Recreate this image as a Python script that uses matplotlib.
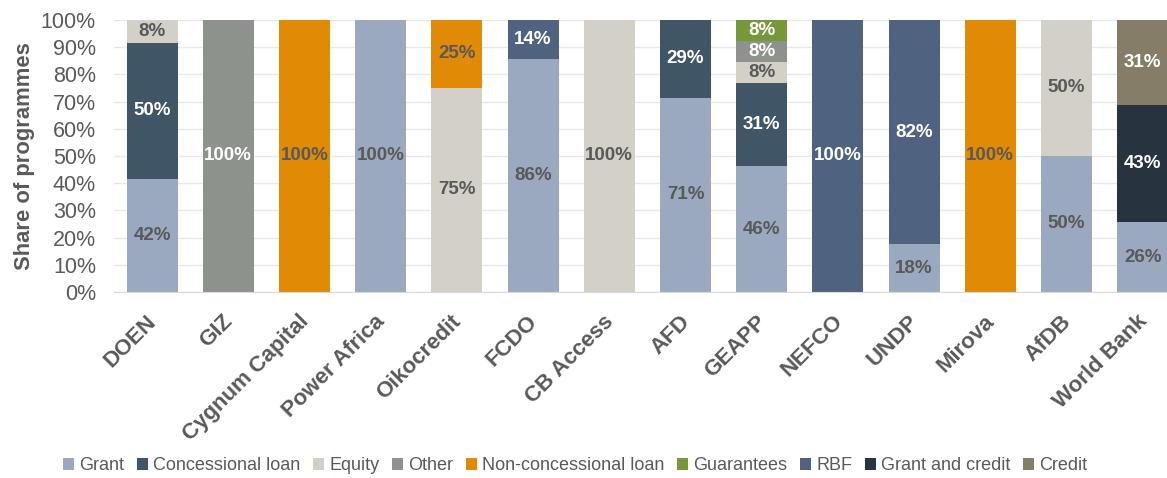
import numpy as np
import matplotlib
matplotlib.use('Agg')
import matplotlib.pyplot as plt
from matplotlib import font_manager
from matplotlib.transforms import ScaledTranslation

# funders (x axis)
funders = ['DOEN', 'GIZ', 'Cygnum Capital', 'Power Africa', 'Oikocredit', 'FCDO',
           'CB Access', 'AFD', 'GEAPP', 'NEFCO', 'UNDP', 'Mirova', 'AfDB', 'World Bank']

# share of programmes per instrument (%)
grant          = [41.7, 0, 0, 100, 0, 85.7, 0, 71.4, 46.2, 0, 17.6, 0, 50, 25.7]
concessional   = [50.0, 0, 0, 0, 0, 0, 0, 28.6, 30.8, 0, 0, 0, 0, 0]
equity         = [8.3, 0, 0, 0, 75, 0, 100, 0, 7.7, 0, 0, 0, 50, 0]
other          = [0, 100, 0, 0, 0, 0, 0, 0, 7.7, 0, 0, 0, 0, 0]
non_conc       = [0, 0, 100, 0, 25, 0, 0, 0, 0, 0, 0, 100, 0, 0]
guarantees     = [0, 0, 0, 0, 0, 0, 0, 0, 7.7, 0, 0, 0, 0, 0]
rbf            = [0, 0, 0, 0, 0, 14.3, 0, 0, 0, 100, 82.4, 0, 0, 0]
grant_credit   = [0, 0, 0, 0, 0, 0, 0, 0, 0, 0, 0, 0, 0, 42.9]
credit         = [0, 0, 0, 0, 0, 0, 0, 0, 0, 0, 0, 0, 0, 31.4]

series = [
    ('Grant', grant, '#9BA9C0', '#595959'),
    ('Concessional loan', concessional, '#405565', 'white'),
    ('Equity', equity, '#D3D0C8', '#595959'),
    ('Other', other, '#8E928D', 'white'),
    ('Non-concessional loan', non_conc, '#E08A05', '#595959'),
    ('Guarantees', guarantees, '#76973A', 'white'),
    ('RBF', rbf, '#4F6280', 'white'),
    ('Grant and credit', grant_credit, '#27343F', 'white'),
    ('Credit', credit, '#857D68', 'white'),
]

names = {f.name for f in font_manager.fontManager.ttflist}
narrow = 'Liberation Sans Narrow' if 'Liberation Sans Narrow' in names else 'Liberation Sans'
plt.rcParams['font.family'] = ['Liberation Sans', 'DejaVu Sans']

grey = '#595959'
fig = plt.figure(figsize=(11.67, 4.78), dpi=100)
ax = fig.add_axes([114 / 1167, 186 / 478, (1167 - 114) / 1167, 272 / 478])

x = np.arange(len(funders))
bottom = np.zeros(len(funders))
for name, vals, col, tcol in series:
    v = np.array(vals, dtype=float) / 100
    ax.bar(x, v, 0.67, bottom=bottom, color=col, label=name, zorder=2)
    for i in range(len(funders)):
        if v[i] > 0:
            ax.text(x[i], bottom[i] + v[i] / 2, '{:.0f}%'.format(v[i] * 100),
                    ha='center', va='center', color=tcol, fontsize=13.5,
                    fontweight='bold', zorder=3)
    bottom += v

ax.set_xlim(-0.5, -0.5 + (1167 - 114) / 76.2)
ax.set_ylim(0, 1)
ax.set_yticks(np.arange(0, 1.01, 0.1))
ax.set_yticklabels(['{:.0f}%'.format(t * 100) for t in np.arange(0, 1.01, 0.1)],
                   fontsize=15.5, color=grey)
ax.yaxis.grid(True, color='#E8E8E8', linewidth=1, zorder=0)
ax.set_axisbelow(True)
for s in ['top', 'right', 'left']:
    ax.spines[s].set_visible(False)
ax.spines['bottom'].set_color('#D9D9D9')
ax.tick_params(length=0)
ax.tick_params(axis='y', pad=13)

ax.set_xticks(x)
ax.set_xticklabels(funders, rotation=45, ha='right', rotation_mode='anchor',
                   fontsize=16, fontweight='bold', color=grey)
ax.tick_params(axis='x', pad=8)
for lab in ax.get_xticklabels():
    lab.set_transform(lab.get_transform() + ScaledTranslation(-0.06, -0.08, fig.dpi_scale_trans))
ax.set_ylabel('Share of programmes', fontsize=15.8, fontweight='bold', color=grey, labelpad=4)

handles, labels = ax.get_legend_handles_labels()
fig.legend(handles, labels, loc='center', bbox_to_anchor=(0.493, 12 / 478), ncol=9,
           frameon=False, handlelength=0.6, handleheight=0.6, handletextpad=0.3,
           columnspacing=0.7, prop={'family': narrow, 'size': 13},
           labelcolor=grey)

fig.savefig('out.png', dpi=100)
